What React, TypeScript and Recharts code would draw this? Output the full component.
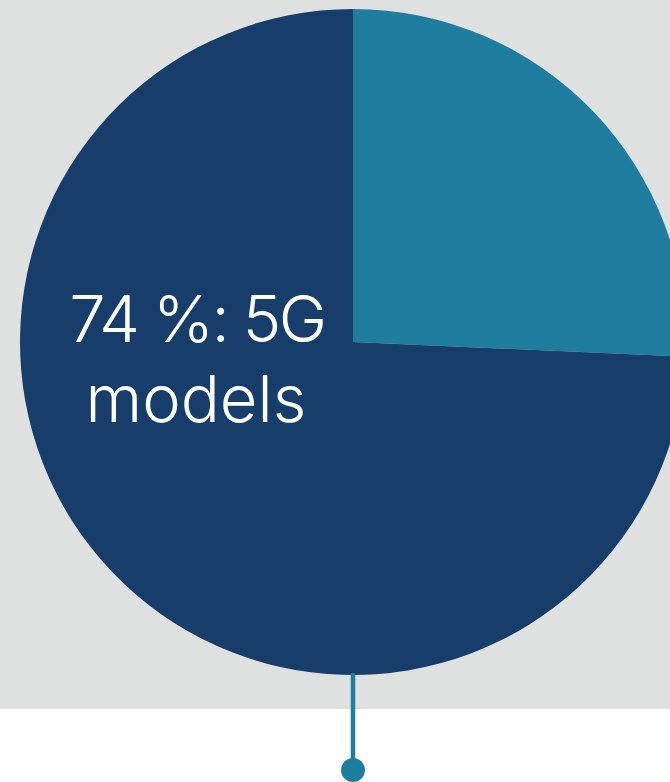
import { Pie, PieChart, Cell } from "recharts";

const segments = ["Other models", "5G models"];
const shares = [25.7, 74.3];
const labelLines = ["74 %: 5G", "models"];

const colors = { teal: "#1f7d9f", navy: "#173d6a", grey: "#dfe1e1" };
const sliceColors = [colors.teal, colors.navy];

const data = segments.map((name, i) => ({ name, value: shares[i] }));

function renderLabel(props: any) {
  const { cx, cy, outerRadius, index } = props;
  if (index !== 1) return null;
  const tx = cx - outerRadius * 0.472;
  const ty = cy;
  const lineEnd = cy + outerRadius + 95;
  return (
    <g>
      <text
        x={tx}
        y={ty}
        fill="#ffffff"
        textAnchor="middle"
        fontFamily="Inter, sans-serif"
        fontWeight={300}
        fontSize={65}
      >
        <tspan x={tx + 1} dy={0} letterSpacing={-2.6}>
          {labelLines[0]}
        </tspan>
        <tspan x={tx} dy={80}>
          {labelLines[1]}
        </tspan>
      </text>
      <line
        x1={cx}
        y1={cy + outerRadius - 2}
        x2={cx}
        y2={lineEnd}
        stroke={colors.teal}
        strokeWidth={4.5}
      />
      <circle cx={cx} cy={lineEnd} r={12} fill={colors.teal} />
    </g>
  );
}

export default function App() {
  return (
    <div
      style={{
        position: "absolute",
        top: 0,
        left: 0,
        width: 670,
        height: 782,
        overflow: "hidden",
        background: `linear-gradient(to bottom, ${colors.grey} 0px, ${colors.grey} 709px, #ffffff 709px)`,
      }}
    >
      <PieChart width={670} height={782} margin={{ top: 0, right: 0, bottom: 0, left: 0 }}>
        <Pie
          data={data}
          dataKey="value"
          nameKey="name"
          cx={353}
          cy={342}
          outerRadius={333}
          startAngle={90}
          endAngle={-270}
          stroke="none"
          label={renderLabel}
          labelLine={false}
          isAnimationActive={false}
        >
          {data.map((d, i) => (
            <Cell key={d.name} fill={sliceColors[i]} />
          ))}
        </Pie>
      </PieChart>
    </div>
  );
}
